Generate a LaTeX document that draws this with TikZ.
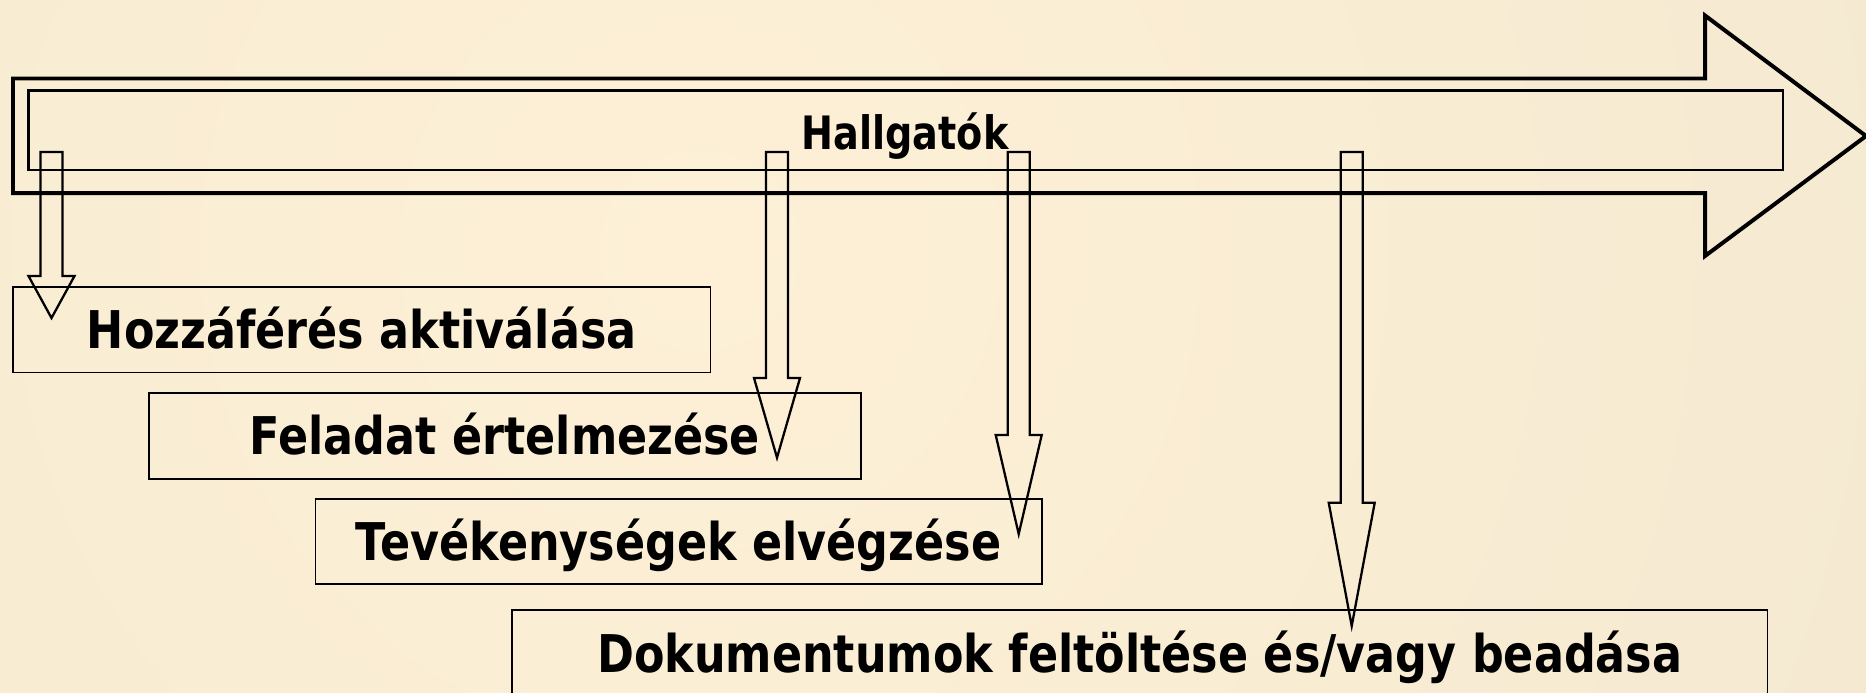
\documentclass[tikz,border=0pt]{standalone}
\usepackage{fontspec}
\newfontfamily\titlefont{DejaVu Sans}[FakeStretch=0.83]
\newfontfamily\stagefont{DejaVu Sans}[FakeStretch=0.855]
\definecolor{bgcenter}{HTML}{FDF0D6}
\definecolor{bgedge}{HTML}{ECE3CC}
\pgfdeclareradialshading{bgglow}{\pgfpoint{0bp}{0bp}}{color(0bp)=(bgcenter); color(50bp)=(bgedge)}
\tikzset{stage/.style={draw, line width=0.3mm, inner sep=0pt, text height=19pt, text depth=0pt,
    font=\stagefont\bfseries\fontsize{26}{30}\selectfont}}
\def\blockarrow(#1:#2:#3){\draw[line width=0.4mm, line join=miter] ({#1-11},152) -- ({#1-11},#2) -- ({#1-23},#2) -- (#1,#3) -- ({#1+23},#2) -- ({#1+11},#2) -- ({#1+11},152) -- cycle;}

\begin{document}
\begin{tikzpicture}[x=0.5pt, y=-0.5pt]
	%%%%% START %%%%%
	\useasboundingbox (0,0) rectangle (1866,692);
	\begin{scope}
		\clip (0,0) rectangle (1866,692);
		\shade[shading=bgglow] (700,250) circle (650pt);
	\end{scope}
	
	% big arrow
	\draw[line width=0.7mm, line join=miter] (13,78.5) -- (1705,78.5) -- (1705,15.5) -- (1866,136) -- (1705,256) -- (1705,193) -- (13,193) -- cycle;
	\draw[line width=0.4mm] (28.5,90.5) rectangle (1783,170);
	\node[font=\titlefont\bfseries\fontsize{23}{27}\selectfont, anchor=base, inner sep=0pt] (hallgatok) at (905,149) {Hallgatók};
	
	% steps
	\node[stage, minimum width=348.75pt, minimum height=42.75pt] (aktival) at (361.75,329.75) {Hozzáférés aktiválása};
	\node[stage, minimum width=356pt, minimum height=43pt] (feladat) at (505,435.7) {Feladat értelmezése};
	\node[stage, minimum width=363.25pt, minimum height=42.5pt] (tevekeny) at (678.75,541.5) {Tevékenységek elvégzése};
	\node[stage, minimum width=627.75pt, minimum height=43pt] (dokument) at (1139.75,653) {Dokumentumok feltöltése és/vagy beadása};
	
	% down arrows
	\blockarrow(51.5:276:318)
	\blockarrow(777:378:457.7)
	\blockarrow(1018.7:435:534)
	\blockarrow(1351.7:502.7:626)
	%%%%% END %%%%%
\end{tikzpicture}
\end{document}
